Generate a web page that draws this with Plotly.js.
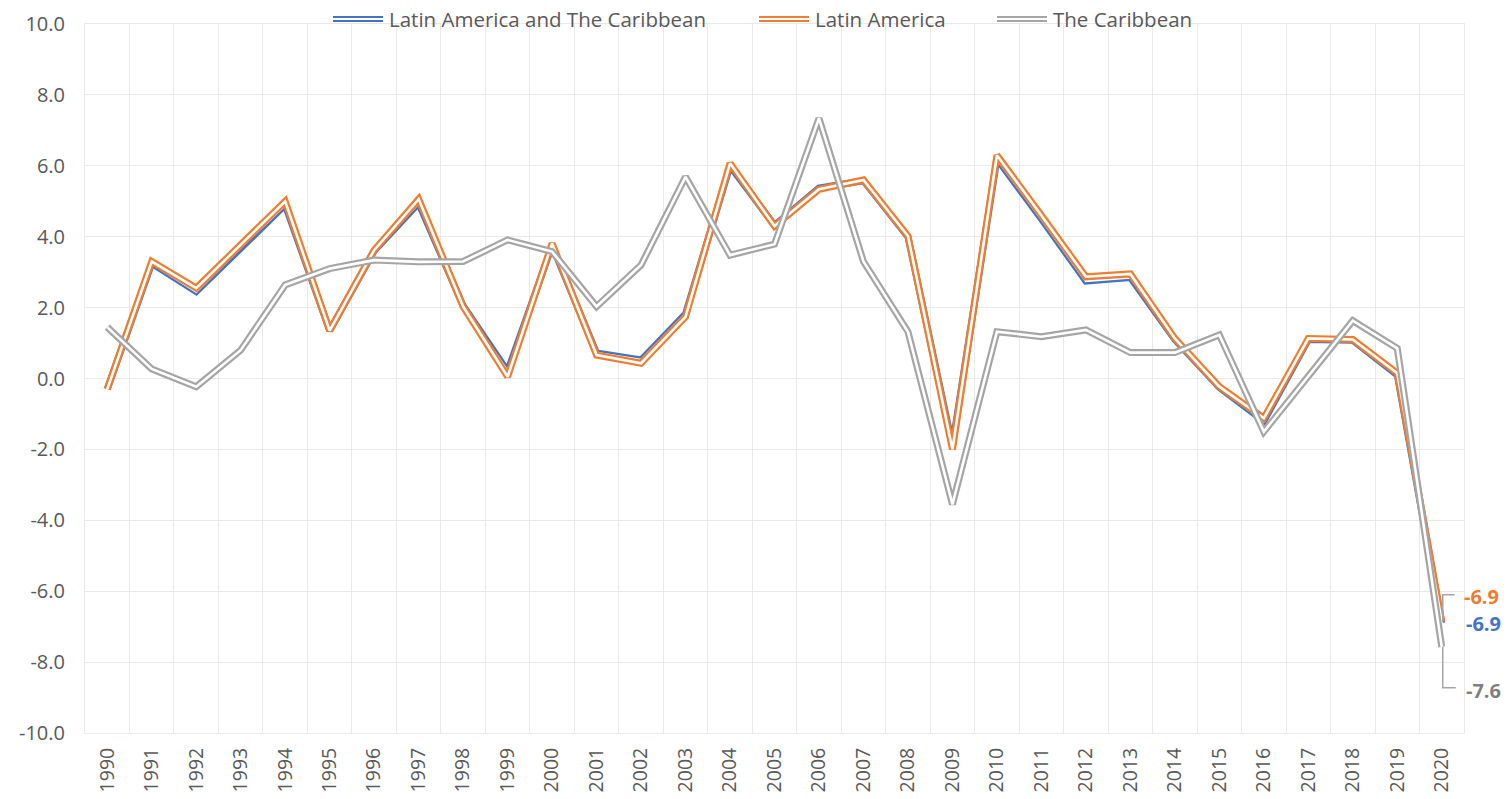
<!DOCTYPE html>
<html>
<head>
<meta charset="utf-8">
<script src="https://cdn.plot.ly/plotly-3.0.1.min.js"></script>
<style>
  html, body { margin: 0; padding: 0; background: #ffffff; }
  #chart { width: 1507px; height: 799px; }
</style>
</head>
<body>
<div id="chart"></div>
<script>
// ---- data ----
const years = [1990, 1991, 1992, 1993, 1994, 1995, 1996, 1997, 1998, 1999,
               2000, 2001, 2002, 2003, 2004, 2005, 2006, 2007, 2008, 2009,
               2010, 2011, 2012, 2013, 2014, 2015, 2016, 2017, 2018, 2019, 2020];

const latinAmericaCaribbean = [-0.3, 3.25, 2.45, 3.7, 4.9, 1.35, 3.6, 4.95, 2.05, 0.2,
                               3.75, 0.72, 0.52, 1.82, 6.0, 4.32, 5.37, 5.58, 4.0, -1.9,
                               6.2, 4.5, 2.75, 2.85, 1.1, -0.25, -1.2, 1.1, 1.08, 0.1, -6.9];

const latinAmerica = [-0.3, 3.3, 2.55, 3.77, 5.0, 1.35, 3.62, 5.06, 2.03, 0.05,
                      3.81, 0.66, 0.43, 1.74, 6.07, 4.3, 5.34, 5.6, 4.02, -2.0,
                      6.3, 4.6, 2.87, 2.95, 1.13, -0.23, -1.12, 1.13, 1.1, 0.15, -6.86];

const caribbean = [1.45, 0.27, -0.23, 0.8, 2.64, 3.1, 3.34, 3.29, 3.3, 3.91,
                   3.58, 2.03, 3.2, 5.69, 3.48, 3.79, 7.34, 3.3, 1.32, -3.55,
                   1.32, 1.18, 1.37, 0.73, 0.73, 1.23, -1.5, 0.05, 1.63, 0.85, -7.57];

const seriesNames = ["Latin America and The Caribbean", "Latin America", "The Caribbean"];
const endLabels = ["-6.9", "-6.9", "-7.6"];
const yTicks = [-10, -8, -6, -4, -2, 0, 2, 4, 6, 8, 10];

// ---- styles ----
const colors = ["#4472C4", "#ED7D31", "#A5A5A5"];
const labelColors = ["#4472C4", "#ED7D31", "#7F7F7F"];
const FONT = "Open Sans, Noto Sans, sans-serif";
const TXT = "#595959";
const GRID = "#E9E9E9";

const allSeries = [latinAmericaCaribbean, latinAmerica, caribbean];
const traces = [];
allSeries.forEach((vals, i) => {
  // outer coloured stroke
  traces.push({
    type: "scatter", mode: "lines", x: years, y: vals, name: seriesNames[i],
    line: { color: colors[i], width: 7 }, showlegend: false, hoverinfo: "skip"
  });
  // inner white gap -> double line look
  traces.push({
    type: "scatter", mode: "lines", x: years, y: vals, name: seriesNames[i],
    line: { color: "#ffffff", width: 2.6 }, showlegend: false, hoverinfo: "skip"
  });
});

const last = years.length - 1;
const lastX = years[last];

// end value labels
const annotations = [];
const labelShifts = [[42, 0], [40, 25], [42, -44]];
allSeries.forEach((vals, i) => {
  annotations.push({
    x: lastX, y: vals[last], xref: "x", yref: "y", text: "<b>" + endLabels[i] + "</b>",
    showarrow: false, xshift: labelShifts[i][0], yshift: labelShifts[i][1],
    font: { family: FONT, size: 20, color: labelColors[i] }
  });
});

// manual legend (double line symbols)
const shapes = [];
const legendItems = [
  { px0: 333, px1: 383, tx: 387 },
  { px0: 759, px1: 809, tx: 813 },
  { px0: 997, px1: 1047, tx: 1051 }
];
const plotL = 85, plotR = 1464, plotT = 24, plotB = 733;
const toPX = (px) => (px - plotL) / (plotR - plotL);
const toPY = (py) => (plotB - py) / (plotB - plotT);
legendItems.forEach((it, i) => {
  [17, 21].forEach(py => {
    shapes.push({
      type: "line", xref: "paper", yref: "paper",
      x0: toPX(it.px0), x1: toPX(it.px1), y0: toPY(py), y1: toPY(py),
      line: { color: colors[i], width: 2.2 }
    });
  });
  annotations.push({
    xref: "paper", yref: "paper", x: toPX(it.tx), y: toPY(19),
    xanchor: "left", yanchor: "middle", showarrow: false,
    text: seriesNames[i], font: { family: FONT, size: 20.5, color: TXT }
  });
});

// leader lines for the end labels (pixel offsets from the data point)
shapes.push({
  type: "path", xref: "x", yref: "y", xsizemode: "pixel", ysizemode: "pixel",
  xanchor: lastX, yanchor: latinAmerica[last],
  path: "M 1,0 L 1,27 L 13,27", line: { color: "#A6A6A6", width: 1.5 }
});
shapes.push({
  type: "path", xref: "x", yref: "y", xsizemode: "pixel", ysizemode: "pixel",
  xanchor: lastX, yanchor: caribbean[last],
  path: "M 1,0 L 1,-41 L 14,-41", line: { color: "#A6A6A6", width: 1.5 }
});

const layout = {
  width: 1507, height: 799,
  paper_bgcolor: "#ffffff", plot_bgcolor: "#ffffff",
  margin: { l: plotL, r: 1507 - plotR, t: plotT, b: 799 - plotB },
  showlegend: false,
  font: { family: FONT, color: TXT },
  xaxis: {
    type: "linear", range: [years[0] - 0.5, lastX + 0.5],
    tickmode: "array", tickvals: years, ticktext: years.map(String),
    tickangle: -90, tickfont: { family: FONT, size: 19.5, color: TXT },
    showgrid: false, zeroline: false,
    ticks: "outside", ticklen: 6, tickcolor: "rgba(0,0,0,0)",
    showline: true, mirror: true, linecolor: GRID, linewidth: 1,
    minor: { tick0: years[0] - 0.5, dtick: 1, showgrid: true, gridcolor: GRID, gridwidth: 1, ticks: "" }
  },
  yaxis: {
    range: [-10, 10], tickmode: "array", tickvals: yTicks,
    ticktext: yTicks.map(v => v.toFixed(1)),
    tickfont: { family: FONT, size: 20, color: TXT },
    showgrid: true, gridcolor: GRID, gridwidth: 1,
    zeroline: false,
    ticks: "outside", ticklen: 15, tickcolor: "rgba(0,0,0,0)",
    showline: true, mirror: true, linecolor: GRID, linewidth: 1
  },
  annotations: annotations,
  shapes: shapes
};

Plotly.newPlot("chart", traces, layout, { displayModeBar: false, staticPlot: true });
</script>
</body>
</html>
